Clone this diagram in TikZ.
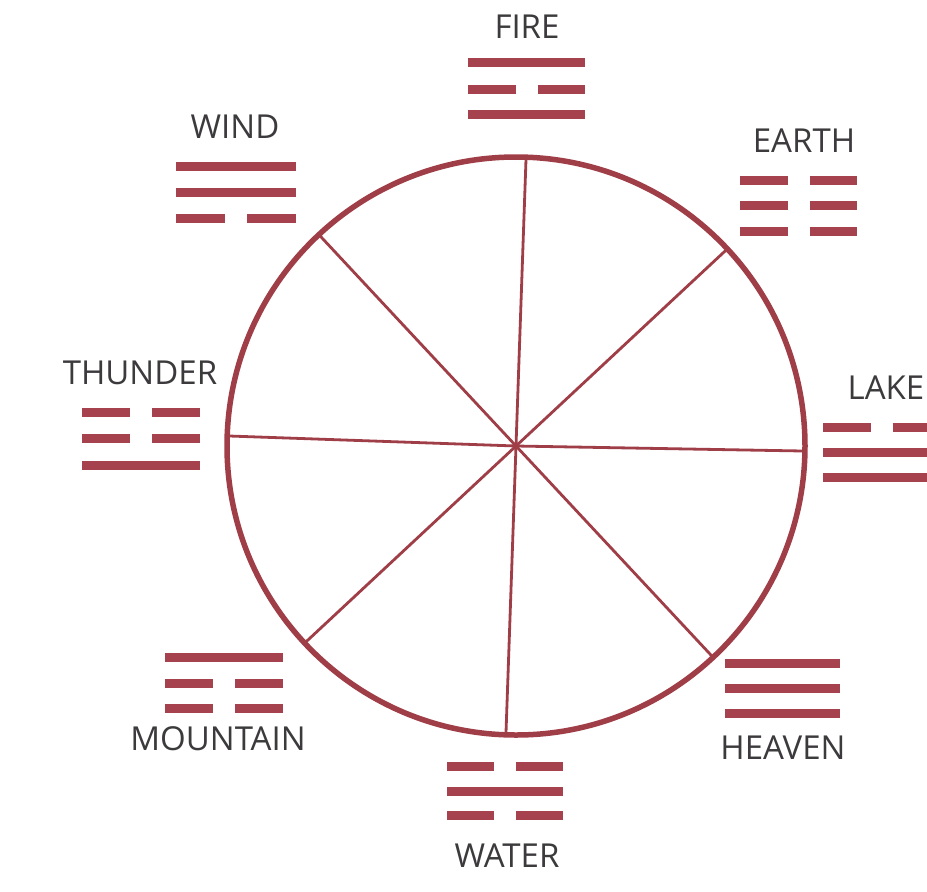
\documentclass[tikz,border=0pt]{standalone}
\usepackage{fontspec}
\setmainfont{Open Sans}
\definecolor{wine}{RGB}{160,62,72}
\definecolor{barcol}{RGB}{166,66,78}
\definecolor{txt}{RGB}{60,58,60}
\tikzset{
  bar/.style={draw=barcol,line width=9pt,line cap=butt},
  rim/.style={circle,draw=wine,line width=5.5pt,minimum size=578pt,inner sep=0pt,outer sep=0pt},
  spoke/.style={draw=wine,line width=2.8pt},
  lbl/.style={text=txt,font=\fontsize{33}{33}\selectfont,inner sep=0pt}
}
\newcommand\yangbar[3]{\draw[bar] (#1,#2) -- ++(#3,0);}
\newcommand\yinbar[3]{\draw[bar] (#1,#2) -- ++({(#3-22)/2},0);
  \draw[bar] ({#1+(#3+22)/2},#2) -- ++({(#3-22)/2},0);}
\begin{document}
\begin{tikzpicture}[x=1pt,y=-1pt]
\fill[white] (0,0) rectangle (927,892);
\useasboundingbox (0,0) rectangle (927,892);
% wheel
\coordinate (c) at (516,446);
\node[rim] (wheel) at (c) {};
\foreach \k in {0,...,7}{
  \pgfmathsetmacro\ang{\k*45-1.5}
  \draw[spoke] (c) -- (wheel.\ang);
}
% labels
\node[lbl] (fire) at (527,27) {FIRE};
\node[lbl] (earth) at (804,141) {EARTH};
\node[lbl] (wind) at (235,127) {WIND};
\node[lbl] (thunder) at (140,373) {THUNDER};
\node[lbl] (lake) at (886,388) {LAKE};
\node[lbl] (heaven) at (783,748) {HEAVEN};
\node[lbl] (mountain) at (218,739) {MOUNTAIN};
\node[lbl] (water) at (507,856) {WATER};
% trigrams
% FIRE
\yangbar{468}{62}{117}
\yinbar{468}{89}{117}
\yangbar{468}{114}{117}
% EARTH
\yinbar{740}{180}{117}
\yinbar{740}{205}{117}
\yinbar{740}{231}{117}
% WIND
\yangbar{176}{166}{120}
\yangbar{176}{192}{120}
\yinbar{176}{218}{120}
% THUNDER
\yinbar{82}{412}{118}
\yinbar{82}{438}{118}
\yangbar{82}{465}{118}
% LAKE
\yinbar{823}{427}{117}
\yangbar{823}{452}{117}
\yangbar{823}{477}{117}
% HEAVEN
\yangbar{725}{663}{115}
\yangbar{725}{688}{115}
\yangbar{725}{713}{115}
% MOUNTAIN
\yangbar{165}{657}{118}
\yinbar{165}{683}{118}
\yinbar{165}{708}{118}
% WATER
\yinbar{447}{766}{116}
\yangbar{447}{791}{116}
\yinbar{447}{815}{116}
\end{tikzpicture}
\end{document}
